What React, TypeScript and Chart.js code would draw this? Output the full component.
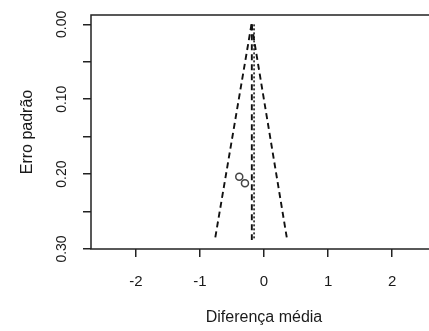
import React, { useEffect, useRef } from "react";
import { Chart, registerables } from "chart.js";
Chart.register(...registerables);

// ---- data ----
const xTickValues = [-2, -1, 0, 1, 2];
const yTickValues = [0, 0.05, 0.1, 0.15, 0.2, 0.25, 0.3];
const yLabelValues = [0, 0.1, 0.2, 0.3];
const studyDiff = [-0.386, -0.297];
const studySe = [0.2035, 0.2123];
const funnelSe = [0, 0.287];
const funnelLeft = [-0.195, -0.765];
const funnelRight = [-0.195, 0.36];
const refLineSe = [0, 0.288];
const commonEst = [-0.19, -0.19];
const randomEst = [-0.155, -0.155];
const xTitle = "Diferença média";
const yTitle = "Erro padrão";

const FONT = "'Liberation Sans', Arial, sans-serif";
const INK = "#1a1a1a";
const SIZE = 15;

const pts = (xs: number[], ys: number[]) => xs.map((x, i) => ({ x, y: ys[i] }));

export default function App() {
  const ref = useRef<HTMLCanvasElement | null>(null);
  useEffect(() => {
    if (!ref.current) return;
    const boxPlugin = {
      id: "boxAndYLabels",
      afterDraw(chart: any) {
        const { ctx, chartArea } = chart;
        const ys = chart.scales.y;
        ctx.save();
        ctx.strokeStyle = "#222";
        ctx.lineWidth = 1.5;
        ctx.strokeRect(chartArea.left, chartArea.top, chartArea.right - chartArea.left, chartArea.bottom - chartArea.top);
        ctx.fillStyle = INK;
        ctx.font = `${SIZE - 1}px ${FONT}`;
        ctx.textAlign = "center";
        ctx.textBaseline = "middle";
        for (const v of yLabelValues) {
          const y = ys.getPixelForValue(v);
          ctx.save();
          ctx.translate(62, y);
          ctx.rotate(-Math.PI / 2);
          ctx.fillText(v.toFixed(2), 0, 0);
          ctx.restore();
        }
        ctx.restore();
      },
    };
    const dashed = { borderColor: "#111", borderWidth: 1.9, borderDash: [6, 4], pointRadius: 0, showLine: true, fill: false };
    const chart = new Chart(ref.current, {
      type: "scatter",
      data: {
        datasets: [
          { ...dashed, data: pts(funnelLeft, funnelSe) },
          { ...dashed, data: pts(funnelRight, funnelSe) },
          { ...dashed, data: pts(commonEst, refLineSe) },
          { ...dashed, borderDash: [2, 2], borderWidth: 1.5, data: pts(randomEst, refLineSe) },
          {
            data: pts(studyDiff, studySe),
            pointRadius: 3.5,
            pointBorderWidth: 1.5,
            pointBorderColor: "#444",
            pointBackgroundColor: "rgba(0,0,0,0)",
            showLine: false,
          },
        ],
      },
      options: {
        responsive: false,
        animation: false,
        devicePixelRatio: 1,
        layout: { padding: { top: 15, right: 8, left: 0, bottom: 0 } },
        plugins: { legend: { display: false }, tooltip: { enabled: false } },
        scales: {
          x: {
            type: "linear",
            min: -2.7,
            max: 2.7,
            afterFit: (s: any) => { s.height = 82; },
            afterBuildTicks: (s: any) => { s.ticks = xTickValues.map((v) => ({ value: v })); },
            ticks: { color: INK, font: { family: FONT, size: SIZE }, padding: 16, callback: (v: any) => String(v), maxRotation: 0 },
            grid: { drawOnChartArea: false, drawTicks: true, tickLength: 8, color: "#222", lineWidth: 1.5 },
            border: { display: false },
            title: { display: true, text: xTitle, color: INK, font: { family: FONT, size: SIZE + 1 }, padding: { top: 0, bottom: 4 } },
          },
          y: {
            type: "linear",
            reverse: true,
            min: -0.0125,
            max: 0.3,
            afterFit: (s: any) => { s.width = 91; },
            afterBuildTicks: (s: any) => { s.ticks = yTickValues.map((v) => ({ value: v })); },
            ticks: { display: false },
            grid: { drawOnChartArea: false, drawTicks: true, tickLength: 8, color: "#222", lineWidth: 1.5 },
            border: { display: false },
            title: { display: true, text: yTitle, color: INK, font: { family: FONT, size: SIZE + 1 }, padding: { top: 18, bottom: 0 } },
          },
        },
      },
      plugins: [boxPlugin],
    } as any);
    return () => chart.destroy();
  }, []);
  return (
    <div style={{ position: "fixed", left: 0, top: 0, width: 429, height: 331, overflow: "hidden", background: "#fff" }}>
      <canvas ref={ref} width={445} height={331} style={{ display: "block", width: 445, height: 331 }} />
    </div>
  );
}
